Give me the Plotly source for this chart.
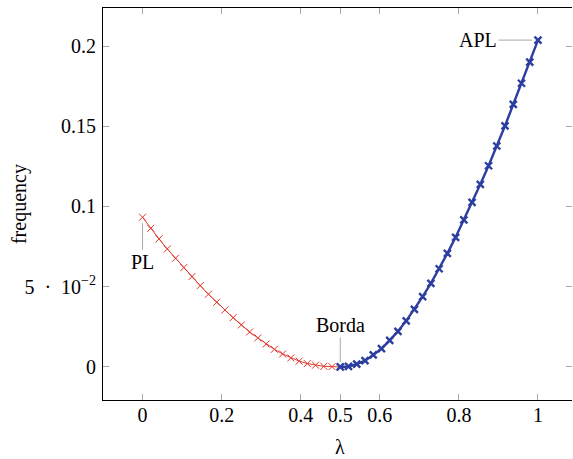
import plotly.graph_objects as go

# lambda grid (step 1/48)
lam_pl = [i / 48 for i in range(0, 25)]
freq_pl = [0.0933, 0.0864, 0.0798, 0.0735, 0.0677, 0.0619, 0.0563, 0.0507, 0.0453,
           0.0403, 0.0355, 0.0307, 0.0262, 0.0218, 0.0181, 0.0143, 0.0110, 0.0081,
           0.0056, 0.0036, 0.0021, 0.0011, 0.0004, 0.0002, 0.0000]
lam_apl = [i / 48 for i in range(24, 49)]
freq_apl = [0.0000, 0.0003, 0.0017, 0.0039, 0.0075, 0.0114, 0.0166, 0.0222, 0.0287,
            0.0359, 0.0438, 0.0521, 0.0612, 0.0708, 0.0808, 0.0916, 0.1026, 0.1138,
            0.1254, 0.1377, 0.1503, 0.1637, 0.1768, 0.1900, 0.2037]

x_ticks = [0, 0.2, 0.4, 0.5, 0.6, 0.8, 1]
x_tick_labels = ["0", "0.2", "0.4", "0.5", "0.6", "0.8", "1"]
y_ticks = [0, 0.05, 0.1, 0.15, 0.2]
y_tick_labels = ["0", "5\u2002·\u200210<sup>−2</sup>", "0.1", "0.15", "0.2"]

RED = "#e5382b"
BLUE = "#2c3e9f"
GRAY = "#a8a8a8"
FONT = "Liberation Serif"

fig = go.Figure()
fig.add_trace(go.Scatter(
    x=lam_pl, y=freq_pl, mode="lines+markers",
    line=dict(color=RED, width=1),
    marker=dict(symbol="x-thin", size=7, line=dict(color=RED, width=1)),
    showlegend=False, hoverinfo="skip"))
fig.add_trace(go.Scatter(
    x=lam_apl, y=freq_apl, mode="lines+markers",
    line=dict(color=BLUE, width=2.4),
    marker=dict(symbol="x-thin", size=7, line=dict(color=BLUE, width=2.4)),
    showlegend=False, hoverinfo="skip"))
# invisible trace for right-side mirrored ticks
fig.add_trace(go.Scatter(x=[0], y=[0], yaxis="y2", mode="markers",
                         marker=dict(opacity=0), showlegend=False, hoverinfo="skip"))

fig.update_layout(
    width=573, height=459, autosize=False,
    margin=dict(l=103, r=1, t=8, b=59),
    plot_bgcolor="white", paper_bgcolor="white",
    font=dict(family=FONT, size=20, color="black"),
    xaxis=dict(range=[-0.1, 1.086], tickvals=x_ticks, ticktext=x_tick_labels,
               showgrid=False, zeroline=False, showline=True, linecolor="black",
               linewidth=1, mirror="ticks", ticks="inside", ticklen=6,
               tickcolor=GRAY, tickwidth=1, ticklabelstandoff=-3),
    yaxis=dict(range=[-0.0206, 0.2237], tickvals=y_ticks, ticktext=y_tick_labels,
               showgrid=False, zeroline=False, showline=True, linecolor="black",
               linewidth=1, ticks="inside", ticklen=6, tickcolor=GRAY,
               tickwidth=1, ticklabelstandoff=2),
    yaxis2=dict(overlaying="y", matches="y", side="right", showline=False,
                showgrid=False, zeroline=False, ticks="inside", ticklen=6,
                tickcolor=GRAY, tickwidth=1, tickvals=y_ticks,
                showticklabels=False),
)

# axis titles
fig.add_annotation(x=0.5, xref="x", y=-59 / 392, yref="paper", text="λ",
                   showarrow=False, xanchor="center", yanchor="bottom",
                   borderpad=0,
                   font=dict(family=FONT, size=20, color="black"))
fig.add_annotation(x=-0.179, xref="paper", y=0.5, yref="paper", text="frequency",
                   showarrow=False, textangle=-90, xanchor="center", yanchor="middle",
                   font=dict(family=FONT, size=20, color="black"))

ann_common = dict(showarrow=True, arrowhead=0, arrowcolor=GRAY, arrowwidth=1,
                  font=dict(family=FONT, size=20, color="black"))
fig.add_annotation(x=lam_pl[0], y=freq_pl[0], text="PL", ax=0, ay=45,
                   standoff=6, **ann_common)
fig.add_annotation(x=lam_apl[0], y=freq_apl[0], text="Borda", ax=0, ay=-42,
                   standoff=5, **ann_common)
fig.add_annotation(x=lam_apl[-1], y=freq_apl[-1], text="APL", ax=-60, ay=0,
                   standoff=6, **ann_common)

fig.write_html("out.html", config={"displayModeBar": False},
               post_script="document.body.style.margin='0';")
